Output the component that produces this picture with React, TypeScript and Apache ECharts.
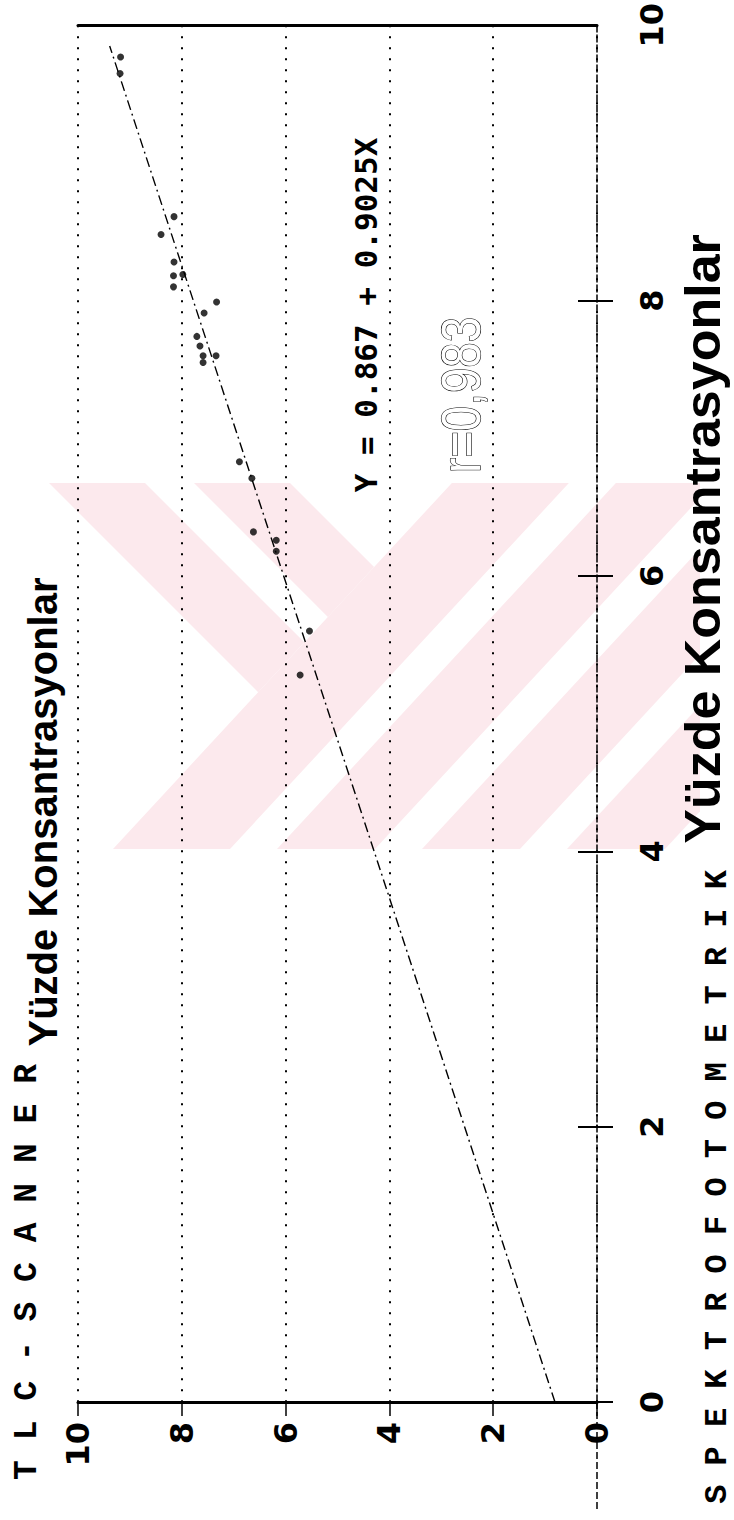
import React, { useEffect, useRef } from "react";
import * as echarts from "echarts";

// Axis ticks
const tlcTicks = [0, 2, 4, 6, 8, 10];
const spectroTickMarks = [0, 2, 4, 6, 8];

// Data points: spectrophotometric value (vertical axis) and TLC-scanner value (horizontal axis)
const spectroValues = [9.77, 9.65, 8.61, 8.48, 8.28, 8.19, 8.18, 8.1, 7.99, 7.91, 7.74, 7.67, 7.6, 7.6, 7.55, 6.83, 6.71, 6.32, 6.26, 6.18, 5.6, 5.28];
const tlcValues = [9.18, 9.19, 8.15, 8.4, 8.15, 7.98, 8.16, 8.16, 7.33, 7.57, 7.71, 7.65, 7.59, 7.34, 7.59, 6.89, 6.65, 6.62, 6.18, 6.18, 5.54, 5.72];

// Drawn regression line end points
const fitSpectro = [0, 9.85];
const fitTlc = [0.81, 9.39];

const equationText = "Y = 0.867 + 0.9025X";
const rText = "r=0,983";
const yTitleCode = "T L C - S C A N N E R";
const xTitleCode = "S P E K T R O F O T O M E T R I K";
const titleWords = "Yüzde Konsantrasyonlar";

// ---- watermark geometry (decoration) ----
const WM_TOP = 483;
const WM_BOT = 849;
const WM_LEFT = 49;
const WM_RIGHT = 700;
const WM_SLOPE = 1.08;
const slashBands = [
  [113, 230],
  [277, 375],
  [422, 520],
  [567, 665],
];
const backBands = [49, 194];
const backBandWidth = 96;

type Pt = [number, number];

function clipVertical(poly: Pt[], xLim: number, keepLess: boolean): Pt[] {
  const out: Pt[] = [];
  const inside = (p: Pt) => (keepLess ? p[0] <= xLim : p[0] >= xLim);
  for (let i = 0; i < poly.length; i++) {
    const a = poly[i];
    const b = poly[(i + 1) % poly.length];
    const ia = inside(a);
    const ib = inside(b);
    if (ia) out.push(a);
    if (ia !== ib) {
      const t = (xLim - a[0]) / (b[0] - a[0]);
      out.push([xLim, a[1] + t * (b[1] - a[1])]);
    }
  }
  return out;
}

function watermark() {
  const H = WM_BOT - WM_TOP;
  const shift = H / WM_SLOPE;
  const polys: Pt[][] = [];
  slashBands.forEach(([a, b]) => {
    let p: Pt[] = [
      [a, WM_BOT],
      [b, WM_BOT],
      [b + shift, WM_TOP],
      [a + shift, WM_TOP],
    ];
    p = clipVertical(p, WM_RIGHT, true);
    p = clipVertical(p, WM_LEFT, false);
    if (p.length > 2) polys.push(p);
  });
  const b1 = slashBands[0][0];
  const meet = (p0: number): Pt => {
    const y = (b1 + WM_BOT / WM_SLOPE - p0 + WM_TOP) / (1 + 1 / WM_SLOPE);
    return [p0 + (y - WM_TOP), y];
  };
  backBands.forEach((p0) => {
    polys.push([[p0, WM_TOP], [p0 + backBandWidth, WM_TOP], meet(p0 + backBandWidth), meet(p0)]);
  });
  return polys.map((pts) => ({
    type: "polygon",
    z: -5,
    silent: true,
    shape: { points: pts },
    style: { fill: "#fce9ed", stroke: null },
  }));
}

function rotText(text: string, x: number, y: number, fontSize: number, fontFamily: string, fontWeight: string, extra: any = {}) {
  return {
    type: "text",
    x,
    y,
    rotation: Math.PI / 2,
    z: 50,
    silent: true,
    ...extra,
    style: {
      text,
      fontSize,
      fontFamily,
      fontWeight,
      fill: "#000",
      align: "center",
      verticalAlign: "middle",
      textAlign: "center",
      textVerticalAlign: "middle",
      ...(extra.style || {}),
    },
  };
}

export default function App() {
  const ref = useRef<HTMLDivElement>(null);
  useEffect(() => {
    if (!ref.current) return;
    const chart = echarts.init(ref.current, null, { renderer: "svg" });
    const points = spectroValues.map((s, i) => [tlcValues[i], s]);
    const fit = fitSpectro.map((s, i) => [fitTlc[i], s]);
    const labelFont = { fontSize: 32, fontWeight: "bold", fontFamily: "DejaVu Sans", color: "#000" };
    const option: any = {
      animation: false,
      backgroundColor: "#fff",
      grid: { left: 78, right: 137, top: 21, bottom: 118, containLabel: false },
      xAxis: [
        {
          type: "value",
          min: 0,
          max: 10,
          interval: 2,
          inverse: true,
          position: "bottom",
          axisLine: { onZero: false, lineStyle: { color: "#000", width: 3 } },
          axisTick: { show: true, length: 14, lineStyle: { color: "#000", width: 1.5 } },
          axisLabel: { ...labelFont, rotate: 90, margin: 20, formatter: (v: number) => (tlcTicks.includes(v) ? String(v) : "") },
          splitLine: { show: true, lineStyle: { color: "#000", width: 2, type: [2, 9] } },
        },
        {
          type: "value",
          min: 0,
          max: 10,
          interval: 2,
          inverse: true,
          position: "top",
          axisLine: { onZero: false, lineStyle: { color: "#000", width: 3 } },
          axisTick: { show: false },
          axisLabel: { show: false },
          splitLine: { show: false },
        },
      ],
      yAxis: [
        {
          type: "value",
          min: 0,
          max: 10,
          interval: 2,
          position: "right",
          axisLine: { show: true, onZero: false, lineStyle: { color: "#000", width: 1.5, type: [7, 3] } },
          axisTick: { show: true, length: 16, customValues: spectroTickMarks, lineStyle: { color: "#000", width: 2 } },
          axisLabel: { ...labelFont, rotate: 90, margin: 39 },
          splitLine: { show: false },
        },
        {
          type: "value",
          min: 0,
          max: 10,
          interval: 2,
          position: "right",
          axisLine: { show: false },
          axisTick: { show: true, inside: true, length: 19, customValues: spectroTickMarks.filter((v) => v > 0), lineStyle: { color: "#000", width: 2 } },
          axisLabel: { show: false },
          splitLine: { show: false },
        },
      ],
      series: [
        {
          type: "line",
          data: fit,
          symbol: "none",
          z: 3,
          lineStyle: { color: "#000", width: 1.4, type: [10, 4, 2, 4] },
        },
        {
          type: "scatter",
          data: points,
          symbol: "circle",
          symbolSize: 7,
          z: 4,
          itemStyle: { color: "#000" },
        },
      ],
      graphic: [
        ...watermark(),
        {
          type: "line",
          z: 10,
          silent: true,
          shape: { x1: 597, y1: 1402, x2: 597, y2: 1510 },
          style: { stroke: "#000", lineWidth: 1.5, lineDash: [7, 3] },
        },
        rotText(yTitleCode, 27, 1272, 33, "Liberation Mono", "bold"),
        rotText(titleWords, 43, 812, 40, "Liberation Sans", "bold"),
        rotText(xTitleCode, 717, 1187, 32, "Liberation Mono", "bold"),
        rotText(titleWords, 703, 539, 50, "Liberation Sans", "bold", { scaleX: 1.04 }),
        rotText(equationText, 366, 315, 31, "DejaVu Sans Mono", "bold"),
        rotText(rText, 461, 395, 55, "Liberation Sans", "normal", {
          scaleX: 0.83,
          style: { fill: "#fff", stroke: "#000", lineWidth: 1.2 },
        }),
      ],
    };
    chart.setOption(option);
    return () => chart.dispose();
  }, []);
  return <div ref={ref} style={{ position: "absolute", left: 0, top: 0, width: 734, height: 1520, background: "#fff" }} />;
}
